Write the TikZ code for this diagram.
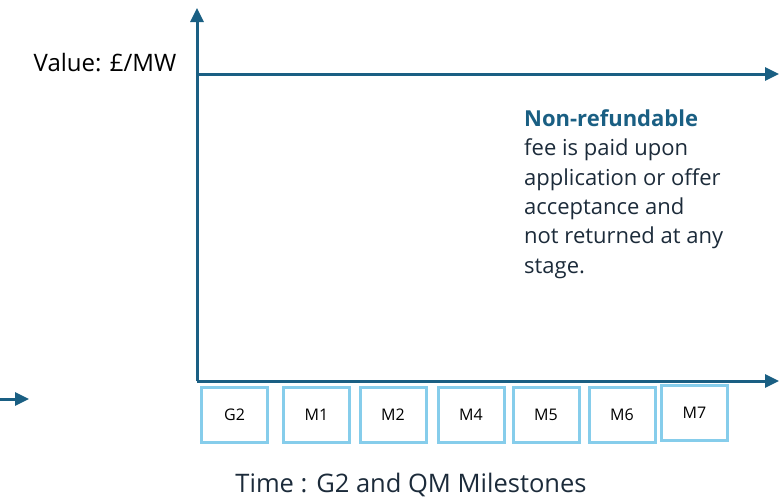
\documentclass[tikz,border=0pt]{standalone}
\usepackage{fontspec}
\setmainfont{Open Sans}
\usepackage{tikz}
\usetikzlibrary{arrows.meta}
\definecolor{axisblue}{HTML}{1A5F83}
\definecolor{boxblue}{HTML}{86CDEB}
\definecolor{textdark}{HTML}{1C2B3A}

\begin{document}
\begin{tikzpicture}[x=1pt, y=-1pt, >={Triangle[length=14pt,width=13pt]},
  axis/.style={draw=axisblue, line width=3pt},
  milestone/.style={draw=boxblue, line width=3pt, minimum width=66pt, minimum height=55pt, inner sep=0pt, font=\fontsize{16}{18}\selectfont},
  note/.style={align=left, anchor=north west, inner sep=0pt, text=textdark, font=\fontsize{22}{29.3}\selectfont}]
	\useasboundingbox (0,0) rectangle (780,498);
	% axes
	\coordinate (origin) at (197,381);
	\coordinate (ytop) at (197,8);
	\coordinate (xend) at (779,381);
	\coordinate (vleft) at (197,74);
	\coordinate (vend) at (779,74);
	\draw[axis,->] (origin) -- (ytop);
	\draw[axis,->] (origin) -- (xend);
	\draw[axis,->] (vleft) -- (vend);
	\coordinate (sl) at (0,399);
	\coordinate (sr) at (29,399);
	\draw[axis,->] (sl) -- (sr);
	% labels
	\node (value) at (105,63) [font=\fontsize{24}{26}\selectfont, text=black] {Value: £/MW};
	\node (fee) at (524,109.5) [note] {\textcolor{axisblue}{\bfseries Non-refundable}\\fee is paid upon\\application or offer\\acceptance and\\not returned at any\\stage.};
	\node (time) at (411,485) [font=\fontsize{25.5}{28}\selectfont, text=textdark] {Time : G2 and QM Milestones};
	% milestones
	\node (g2) at (234.5,415) [milestone] {G2};
	\node (m1) at (316.5,415) [milestone] {M1};
	\node (m2) at (393,415) [milestone] {M2};
	\node (m4) at (471,415) [milestone] {M4};
	\node (m5) at (546,415) [milestone] {M5};
	\node (m6) at (622,415) [milestone] {M6};
	\node (m7) at (694.5,413) [milestone] {M7};
\end{tikzpicture}
\end{document}
